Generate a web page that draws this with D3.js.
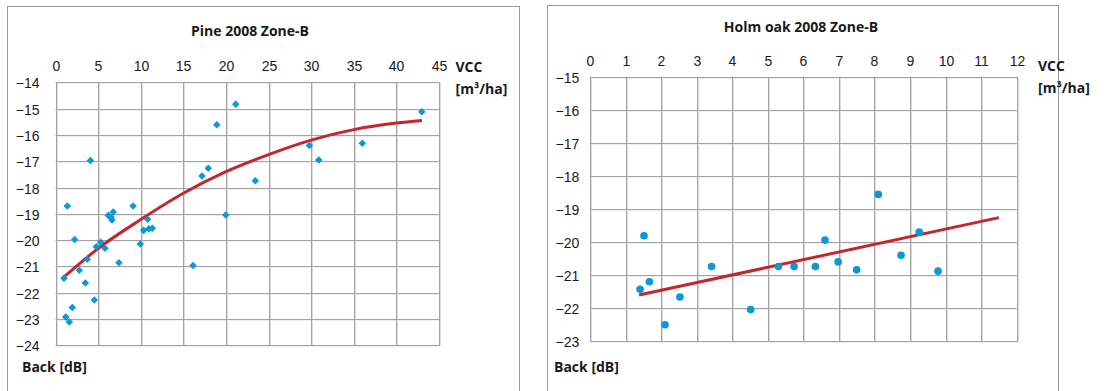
<!DOCTYPE html>
<html>
<head>
<meta charset="utf-8">
<script src="https://cdn.jsdelivr.net/npm/d3@7"></script>
<style>
  html, body { margin: 0; padding: 0; background: #fff; }
  svg { display: block; font-family: "Open Sans", "Noto Sans", sans-serif; }
  .tick text { font-size: 14px; fill: #1a1a1a; }
  .lbl { font-size: 14px; font-weight: bold; fill: #1a1a1a; }
</style>
</head>
<body>
<svg id="chart" width="1104" height="391"></svg>
<script>
// Pine stand, zone B: VCC [m³/ha] vs backscatter [dB]
const pineVCC  = [1.39, 2.25, 1.0, 2.79, 3.5, 4.56, 1.97, 1.2, 1.62, 3.73, 4.79, 5.3, 5.81, 6.2, 6.51, 6.63, 6.78, 7.45, 9.1, 9.95, 10.35, 10.82, 10.94, 11.37, 4.09, 16.14, 17.19, 17.93, 18.92, 19.98, 21.15, 23.45, 29.79, 30.89, 36.0, 42.98];
const pineBack = [-18.70, -19.98, -21.45, -21.15, -21.63, -22.28, -22.56, -22.92, -23.11, -20.73, -20.25, -20.08, -20.31, -19.06, -19.13, -19.24, -18.93, -20.86, -18.70, -20.15, -19.63, -19.21, -19.57, -19.55, -16.97, -20.97, -17.56, -17.27, -15.61, -19.05, -14.83, -17.74, -16.40, -16.95, -16.32, -15.12];
// Pine trend curve, sampled along its length
const pineTrendVCC  = [0.9, 5, 10, 15, 20, 25, 30, 35, 40, 43];
const pineTrendBack = [-21.43, -20.32, -19.22, -18.22, -17.40, -16.75, -16.20, -15.80, -15.55, -15.45];
const pineXTicks = [0, 5, 10, 15, 20, 25, 30, 35, 40, 45];
const pineYTicks = [-24, -23, -22, -21, -20, -19, -18, -17, -16, -15, -14];

// Holm oak stand, zone B
const oakVCC  = [1.41, 1.52, 1.67, 2.11, 2.53, 3.42, 4.52, 5.30, 5.74, 6.34, 6.61, 6.98, 7.50, 8.11, 8.75, 9.26, 9.79];
const oakBack = [-21.43, -19.81, -21.20, -22.50, -21.66, -20.74, -22.04, -20.74, -20.74, -20.74, -19.94, -20.60, -20.84, -18.56, -20.40, -19.70, -20.88];
const oakTrendVCC  = [1.38, 11.5];
const oakTrendBack = [-21.60, -19.26];
const oakXTicks = [0, 1, 2, 3, 4, 5, 6, 7, 8, 9, 10, 11, 12];
const oakYTicks = [-23, -22, -21, -20, -19, -18, -17, -16, -15];

const BLUE = "#0898dc";
const RED = "#c1272d";
const GRID = "#a3a3a3";
const GRID_SHADE = "#dcdcdc";

const svg = d3.select("#chart");

function panel(cfg) {
  const g = svg.append("g");

  // outer chart frame (runs off the bottom edge)
  g.append("rect")
    .attr("x", cfg.frame[0] + 0.5).attr("y", cfg.frame[1] + 0.5)
    .attr("width", cfg.frame[2]).attr("height", 420)
    .attr("fill", "none").attr("stroke", "#9a9a9a");

  const x = d3.scaleLinear().domain(cfg.xDomain).range([cfg.left, cfg.right]);
  const y = d3.scaleLinear().domain(cfg.yDomain).range([cfg.bottom, cfg.top]);
  const w = cfg.right - cfg.left, h = cfg.bottom - cfg.top;

  // light shading beside each vertical gridline
  g.append("g").selectAll("line").data(cfg.xTicks).join("line")
    .attr("x1", d => Math.round(x(d)) + 1.5).attr("x2", d => Math.round(x(d)) + 1.5)
    .attr("y1", cfg.top).attr("y2", cfg.bottom)
    .attr("stroke", GRID_SHADE);
  g.append("g").selectAll("line").data(cfg.yTicks).join("line")
    .attr("x1", cfg.left).attr("x2", cfg.right)
    .attr("y1", d => Math.round(y(d)) + 1.5).attr("y2", d => Math.round(y(d)) + 1.5)
    .attr("stroke", "#eeeeee");

  // x axis on top, ticks extended into vertical gridlines
  const xa = g.append("g")
    .attr("transform", `translate(0,${cfg.top})`)
    .call(d3.axisTop(x).tickValues(cfg.xTicks).tickSize(-h).tickPadding(cfg.xPad).tickFormat(d3.format("d")));
  xa.select(".domain").remove();
  xa.selectAll(".tick line").attr("stroke", GRID)
    .attr("transform", function () { return null; });
  xa.selectAll(".tick").attr("transform", d => `translate(${Math.round(x(d)) + 0.5},0)`);

  // y axis on the left, ticks extended into horizontal gridlines
  const ya = g.append("g")
    .attr("transform", `translate(${cfg.left},0)`)
    .call(d3.axisLeft(y).tickValues(cfg.yTicks).tickSize(-w).tickPadding(cfg.yPad).tickFormat(d3.format("d")));
  ya.select(".domain").remove();
  ya.selectAll(".tick line").attr("stroke", GRID);
  ya.selectAll(".tick").attr("transform", d => `translate(0,${Math.round(y(d)) + 0.5})`);
  ya.selectAll(".tick text").attr("dy", "0.4em");

  // plot-area outline
  g.append("rect")
    .attr("x", Math.round(cfg.left) + 0.5).attr("y", Math.round(cfg.top) + 0.5)
    .attr("width", Math.round(cfg.right) - Math.round(cfg.left))
    .attr("height", Math.round(cfg.bottom) - Math.round(cfg.top))
    .attr("fill", "none").attr("stroke", GRID);

  // trend line
  const trend = d3.zip(cfg.trendX, cfg.trendY);
  g.append("path")
    .datum(trend)
    .attr("fill", "none").attr("stroke", RED).attr("stroke-width", 3)
    .attr("d", d3.line().x(d => x(d[0])).y(d => y(d[1])).curve(d3.curveMonotoneX));

  // observations
  const pts = d3.zip(cfg.vx, cfg.vy);
  const sym = d3.symbol().type(cfg.marker).size(cfg.markerSize);
  g.append("g").selectAll("path").data(pts).join("path")
    .attr("transform", d => `translate(${x(d[0])},${y(d[1])})`)
    .attr("d", sym)
    .attr("fill", BLUE);

  // titles and axis names
  g.append("text").attr("class", "lbl").attr("text-anchor", "middle")
    .attr("x", cfg.titlePos[0]).attr("y", cfg.titlePos[1]).text(cfg.title);
  g.append("text").attr("class", "lbl")
    .attr("x", cfg.vccPos[0]).attr("y", cfg.vccPos[1]).text("VCC");
  g.append("text").attr("class", "lbl")
    .attr("x", cfg.vccPos[0]).attr("y", cfg.vccPos[1] + 22).text("[m³/ha]");
  g.append("text").attr("class", "lbl")
    .attr("x", cfg.backPos[0]).attr("y", cfg.backPos[1]).text("Back [dB]");
}

panel({
  frame: [7, 6, 512],
  xDomain: [0, 45], yDomain: [-24, -14],
  left: 55.5, right: 439, top: 82.3, bottom: 345.3,
  xTicks: pineXTicks, yTicks: pineYTicks,
  xPad: 11.5, yPad: 16,
  vx: pineVCC, vy: pineBack,
  trendX: pineTrendVCC, trendY: pineTrendBack,
  marker: d3.symbolDiamond2, markerSize: 36,
  title: "Pine 2008 Zone-B", titlePos: [250, 36],
  vccPos: [455.5, 71.5], backPos: [22, 372]
});

panel({
  frame: [547, 5, 511],
  xDomain: [0, 12], yDomain: [-23, -15],
  left: 590, right: 1016.6, top: 76.7, bottom: 341.3,
  xTicks: oakXTicks, yTicks: oakYTicks,
  xPad: 11.2, yPad: 10.7,
  vx: oakVCC, vy: oakBack,
  trendX: oakTrendVCC, trendY: oakTrendBack,
  marker: d3.symbolCircle, markerSize: 46,
  title: "Holm oak 2008 Zone-B", titlePos: [801, 31.7],
  vccPos: [1038, 71], backPos: [554, 372]
});
</script>
</body>
</html>
